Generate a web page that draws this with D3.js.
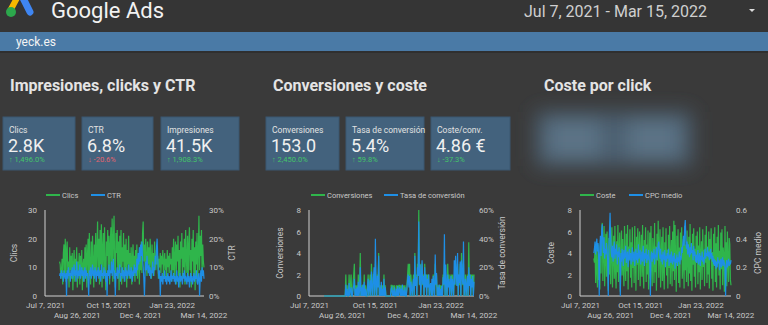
<!DOCTYPE html>
<html><head><meta charset="utf-8">
<script src="https://cdn.jsdelivr.net/npm/d3@7"></script>
<style>
body{margin:0;background:#3a3a3a;overflow:hidden}
svg{display:block;font-family:Roboto,"Noto Sans",sans-serif}
</style></head><body>
<svg id="c" width="768" height="325"></svg>
<script>
// ---------- DATA ----------
const startDate = "2021-07-30";
const domainStart = "2021-07-07", domainEnd = "2022-03-15";
const tickDates = ["2021-07-07","2021-08-26","2021-10-15","2021-12-04","2022-01-23","2022-03-14"];
const tickLabels = ["Jul 7, 2021","Aug 26, 2021","Oct 15, 2021","Dec 4, 2021","Jan 23, 2022","Mar 14, 2022"];

const clics = [
12,11,6,9,13,4,15,18,8,20, 5,16,19,7,12,3,17,9,14,6, 15,2,11,16,5,13,8,17,3,12,
9,15,4,14,7,16,2,11,13,5, 17,8,18,3,14,20,6,22,10,4, 19,7,21,12,3,18,9,22,5,16,
26,8,20,4,23,11,25,3,17,22, 6,24,10,2,19,14,23,7,21,4, 18,24,9,27,5,20,28,11,3,22,
15,23,6,19,2,21,10,23,4,17, 12,22,5,18,8,20,3,16,11,21, 6,15,9,17,4,13,18,7,14,5,
16,10,18,6,12,15,4,17,9,19, 8,22,26,12,18,9,20,14,7,19, 11,17,8,20,13,6,18,10,15,7,
19,12,9,16,11,14,6,13,10,15, 8,14,11,16,7,12,15,9,13,6, 16,10,14,8,15,11,13,5,17,9,
20,6,14,19,4,18,12,21,7,16, 3,19,13,22,6,17,10,20,4,23, 14,8,21,5,18,24,9,16,3,20,
12,23,6,17,2,19,11,22,5,15, 28,9,21,14,23,7,18,12,10];
const ctr = [
7,8,6,9,7,8,5,9,7,6, 8,0,9,6,10,7,8,5,9,7, 10,6,8,11,7,9,5,12,8,6,
9,7,11,6,8,10,7,9,5,8, 10,6,9,7,8,5,0,9,7,10, 6,8,11,7,9,6,10,8,5,9,
7,10,6,8,9,5,11,7,8,6, 10,7,9,5,8,0,9,7,11,6, 9,8,12,7,10,13,6,9,0,8,
7,10,6,9,8,11,5,8,7,10, 6,9,8,5,10,7,9,6,8,11, 7,9,6,10,8,5,9,7,11,8,
10,7,13,9,15,11,17,12,18,14, 19,13,10,6,0,8,12,9,14,10, 8,11,7,10,6,9,8,12,7,10,
9,14,11,17,20,13,8,6,9,0, 7,5,8,4,7,6,9,5,7,4, 6,8,5,7,4,6,9,5,7,6,
8,5,7,4,6,9,5,7,3,6, 8,5,7,6,4,8,6,9,5,7, 6,4,8,5,7,3,6,8,5,7,
4,6,8,5,7,6,9,5,4,7, 8,0,6,9,5,10,7,9,6];
const conversiones = [
0,0,0,0,0,0,0,0,0,0, 0,0,0,0,0,0,0,0,0,0, 0,0,0,0,0,0,0,0,0,0,
0,0,0,2,0,1,0,0,2,0, 1,2,0,0,1,2,3,0,1,0, 1,0,2,0,1,4,0,1,0,1,
0,2,0,1,0,0,1,2,0,1, 2,0,3,1,0,2,2,0,3,1, 0,2,1,4,0,1,0,1,0,1,
0,2,0,1,0,0,0,0,0,0, 0,0,1,1,0,1,0,1,0,0, 1,0,1,0,1,1,0,1,0,1,
0,1,0,1,0,0,1,2,3,1, 3,0,2,1,0,1,2,0,4,1, 2,0,3,2,8,1,3,0,2,3,
1,2,0,3,1,2,0,2,1,2, 0,1,1,0,1,0,2,1,0,3, 1,2,0,1,0,1,0,1,0,1,
0,2,1,3,0,2,1,0,3,1, 2,0,1,2,0,2,1,0,2,1, 3,2,1,3,0,2,1,3,0,4,
2,1,3,0,1,2,0,1,2,0, 5,1,2,0,2,1,2,0,2];
const tasaConversion = [
0,0,0,0,0,0,0,0,0,0, 0,0,0,0,0,0,0,0,0,0, 0,0,0,0,0,0,0,0,0,0,
0,0,0,8,0,5,0,0,9,0, 4,6,0,0,5,7,12,0,5,0, 6,0,10,0,4,20,0,6,0,8,
0,10,0,5,0,0,6,12,0,5, 11,0,17,7,0,12,20,0,40,8, 0,14,6,28,0,6,0,10,0,5,
0,12,0,6,0,0,0,0,0,0, 0,0,5,6,0,4,0,6,0,0, 5,0,7,0,4,6,0,5,0,8,
0,4,0,6,0,0,5,12,15,6, 14,0,10,5,0,8,12,0,28,7, 13,0,20,14,52,8,22,0,12,25,
8,14,0,20,6,15,0,12,6,15, 0,7,9,0,12,0,14,6,0,29, 8,16,0,6,0,8,0,5,0,7,
0,13,8,43,0,22,8,0,15,6, 12,0,9,14,0,12,7,0,25,8, 28,16,7,30,0,15,9,24,0,25,
14,8,38,0,6,12,0,8,14,0, 20,7,15,0,12,6,14,0,10];
const coste = [
3.5,3.1,4.5,1.2,5.0,2.4,0.8,4.8,1.5,3.9, 0.6,5.2,2.1,6.2,6.8,1.4,4.4,6.5,0.9,3.6,
5.8,1.8,6.0,2.7,0.5,5.4,2.0,6.3,1.1,4.7, 6.4,0.8,3.8,5.6,1.6,6.5,2.5,0.7,5.1,2.2,
6.6,1.3,4.2,5.9,0.4,3.4,6.1,1.9,5.3,2.8, 0.9,6.5,3.0,1.4,5.8,2.3,6.6,0.6,4.6,3.3,
6.2,1.7,5.0,0.8,6.4,2.6,4.1,1.2,6.5,3.6, 0.5,5.5,2.9,6.3,1.5,4.4,6.0,0.9,3.7,5.7,
1.8,6.6,2.4,0.7,5.2,3.1,6.4,1.3,4.8,2.0, 6.1,0.6,3.5,5.9,1.6,6.5,2.7,0.9,5.4,3.9,
1.2,6.8,2.2,4.6,0.5,5.8,3.3,7.0,1.7,4.1, 6.2,0.8,3.7,5.5,1.4,6.4,2.5,0.6,5.0,3.0,
6.3,1.9,4.3,0.7,5.7,2.6,6.5,1.1,3.8,5.2, 0.9,6.0,2.3,7.0,1.5,6.6,3.2,0.4,5.6,2.8,
6.2,1.2,4.5,0.8,5.9,3.5,6.4,1.6,3.0,5.3, 0.7,6.5,2.4,4.8,1.3,6.1,3.6,0.9,5.5,2.1,
6.7,1.4,4.0,0.5,5.8,2.9,6.3,1.8,4.4,0.8, 5.6,3.3,6.0,1.1,4.7,2.2,6.4,0.6,3.9,5.1,
1.5,6.2,2.7,4.3,0.9,5.7,3.1,6.5,1.2,4.6, 2.0,6.0,0.7,5.3,3.4,6.3,1.6,4.1,0.5,5.8,
2.8,6.4,1.3,4.9,0.8,5.5,3.0,6.6,1.9,4.2, 0.6,5.9,2.5,6.2,1.0,4.5,3.7,0.4,6.5,2.2,
5.0,0.9,6.0,3.2,1.3,5.4,4.8,1.5,1.0];
const cpcMedio = [
0.30,0.33,0.38,0.29,0.35,0.40,0.31,0.37,0.27,0.0, 0.34,0.42,0.28,0.45,0.50,0.36,0.30,0.41,0.26,0.33,
0.29,0.37,0.31,0.25,0.0,0.34,0.45,0.58,0.40,0.30, 0.27,0.35,0.24,0.32,0.38,0.26,0.33,0.29,0.36,0.22,
0.31,0.27,0.34,0.25,0.0,0.30,0.24,0.33,0.28,0.21, 0.32,0.26,0.29,0.35,0.23,0.28,0.31,0.20,0.27,0.33,
0.25,0.30,0.22,0.29,0.34,0.24,0.27,0.31,0.21,0.28, 0.33,0.25,0.30,0.23,0.36,0.26,0.29,0.32,0.22,0.27,
0.31,0.24,0.35,0.28,0.21,0.30,0.26,0.33,0.23,0.29, 0.25,0.32,0.27,0.22,0.0,0.28,0.31,0.24,0.30,0.26,
0.33,0.22,0.29,0.27,0.34,0.25,0.31,0.36,0.38,0.30, 0.26,0.33,0.24,0.29,0.22,0.31,0.27,0.25,0.32,0.20,
0.28,0.24,0.30,0.26,0.33,0.21,0.27,0.29,0.23,0.31, 0.25,0.22,0.28,0.24,0.30,0.19,0.26,0.23,0.29,0.21,
0.27,0.24,0.31,0.22,0.28,0.25,0.34,0.30,0.37,0.42, 0.35,0.48,0.53,0.40,0.33,0.38,0.29,0.36,0.31,0.27,
0.34,0.29,0.37,0.30,0.32,0.25,0.35,0.28,0.31,0.24, 0.29,0.23,0.27,0.32,0.22,0.26,0.30,0.21,0.28,0.25,
0.31,0.24,0.27,0.22,0.29,0.33,0.26,0.30,0.28,0.34, 0.27,0.31,0.25,0.29,0.33,0.26,0.30,0.24,0.28,0.22,
0.26,0.21,0.25,0.19,0.24,0.20,0.27,0.23,0.25,0.18, 0.22,0.26,0.20,0.24,0.27,0.21,0.25,0.23,0.19,0.0,
0.22,0.25,0.20,0.23,0.26,0.21,0.24,0.22,0.25];

const kpiLabels = ["Clics","CTR","Impresiones","Conversiones","Tasa de conversión","Coste/conv."];
const kpiValues = ["2.8K","6.8%","41.5K","153.0","5.4%","4.86 €"];
const kpiDeltas = ["1,496.0%","-20.6%","1,908.3%","2,450.0%","59.8%","-37.3%"];
const kpiUp = [true,false,true,true,true,false];
const kpiGood = [true,false,true,true,true,true];
const sectionTitles = ["Impresiones, clicks y CTR","Conversiones y coste","Coste por click"];

// ---------- DRAW ----------
const svg = d3.select("#c");
const GREEN = "#2fb54b", BLUE = "#1e8fe6", TXT = "#c9c9c9";
const parse = d3.timeParse("%Y-%m-%d");
const dates = clics.map((_, i) => d3.timeDay.offset(parse(startDate), i));

const defs = svg.append("defs");
defs.append("filter").attr("id","blur").attr("x","-50%").attr("y","-50%").attr("width","200%").attr("height","200%")
  .append("feGaussianBlur").attr("stdDeviation", 10);

// header
svg.append("rect").attr("x",0).attr("y",0).attr("width",768).attr("height",32).attr("fill","#353535");
svg.append("line").attr("x1",10).attr("y1",11).attr("x2",17).attr("y2",-2)
  .attr("stroke","#f6b900").attr("stroke-width",6).attr("stroke-linecap","round");
svg.append("line").attr("x1",23).attr("y1",-2).attr("x2",30).attr("y2",12)
  .attr("stroke","#3f86f2").attr("stroke-width",7).attr("stroke-linecap","round");
svg.append("circle").attr("cx",11).attr("cy",12).attr("r",5).attr("fill","#2ca84c");
svg.append("text").attr("x",51).attr("y",18).attr("font-size",22).attr("fill","#f2f2f2").text("Google Ads");
svg.append("text").attr("x",524).attr("y",17).attr("font-size",16).attr("fill","#cfcfcf").text("Jul 7, 2021 - Mar 15, 2022");
svg.append("path").attr("d","M749,9 L755,9 L752,12 Z").attr("fill","#dddddd");

svg.append("rect").attr("x",0).attr("y",32).attr("width",768).attr("height",19).attr("fill","#4a7aa6");
svg.append("rect").attr("x",0).attr("y",51).attr("width",768).attr("height",2).attr("fill","#2f2f2f");
svg.append("text").attr("x",16).attr("y",46).attr("font-size",12).attr("fill","#f4f4f4").text("yeck.es");

// section titles
[10, 273, 544].forEach((x, i) => {
  svg.append("text").attr("x", x).attr("y", 91).attr("font-size", 16).attr("font-weight", 700)
    .attr("fill", "#e4e4e4").text(sectionTitles[i]);
});

// KPI cards
const cardX = [[3,75],[82,153],[161,239],[266,339],[346,424],[431,510]];
cardX.forEach(([a,b], i) => {
  const g = svg.append("g");
  g.append("rect").attr("x",a).attr("y",117).attr("width",b-a).attr("height",53).attr("fill","#43627d")
    .attr("stroke","#3a5670").attr("stroke-width",1);
  g.append("text").attr("x",a+6).attr("y",133).attr("font-size",8.5).attr("fill","#e2e2e2").text(kpiLabels[i]);
  g.append("text").attr("x",a+5).attr("y",151.5).attr("font-size",18).attr("fill","#f0f0f0").text(kpiValues[i]);
  g.append("text").attr("x",a+6).attr("y",162).attr("font-size",7.5)
    .attr("fill", kpiGood[i] ? "#43c46a" : "#e2646f")
    .text((kpiUp[i] ? "↑ " : "↓ ") + kpiDeltas[i]);
});

// blurred scorecards
const blurG = svg.append("g").attr("filter","url(#blur)");
blurG.append("rect").attr("x",536).attr("y",112).attr("width",156).attr("height",54).attr("fill","#4b5f70");
blurG.append("rect").attr("x",548).attr("y",120).attr("width",52).attr("height",38).attr("fill","#5b7386");
blurG.append("rect").attr("x",628).attr("y",120).attr("width",52).attr("height",38).attr("fill","#5b7386");

// charts
function drawChart(o) {
  const g = svg.append("g");
  const x = d3.scaleTime().domain([parse(domainStart), parse(domainEnd)]).range([o.x0, o.x1]);
  const yL = d3.scaleLinear().domain([0, o.lMax]).range([296, 210]);
  const yR = d3.scaleLinear().domain([0, o.rMax]).range([296, 210]);

  const ax = g.append("g").attr("transform", `translate(${o.x0},0)`)
    .call(d3.axisLeft(yL).tickValues(o.lTicks).tickSize(0).tickPadding(8).tickFormat(o.lFmt));
  ax.select(".domain").remove();
  ax.selectAll("text").attr("fill", TXT).attr("font-size", 8).attr("font-family","Roboto");
  const ar = g.append("g").attr("transform", `translate(${o.x1},0)`)
    .call(d3.axisRight(yR).tickValues(o.rTicks).tickSize(0).tickPadding(5).tickFormat(o.rFmt));
  ar.select(".domain").remove();
  ar.selectAll("text").attr("fill", TXT).attr("font-size", 8).attr("font-family","Roboto");

  const bx = g.append("g").attr("transform", "translate(0,296)")
    .call(d3.axisBottom(x).tickValues(tickDates.map(parse)).tickSize(0)
      .tickFormat((d, i) => tickLabels[i]));
  bx.select(".domain").remove();
  bx.selectAll("text").attr("fill", TXT).attr("font-size", 8).attr("font-family","Roboto")
    .attr("dy", 0).attr("y", (d, i) => i % 2 ? 22 : 12);

  g.append("line").attr("x1",o.x0).attr("x2",o.x0).attr("y1",210).attr("y2",296).attr("stroke","#d0d0d0");
  g.append("line").attr("x1",o.x0).attr("x2",o.x1).attr("y1",296).attr("y2",296).attr("stroke","#d0d0d0");

  const lineL = d3.line().x((d, i) => x(dates[i])).y(d => yL(d));
  const lineR = d3.line().x((d, i) => x(dates[i])).y(d => yR(d));
  g.append("path").attr("d", lineL(o.left)).attr("fill","none").attr("stroke",GREEN).attr("stroke-width",1.2);
  g.append("path").attr("d", lineR(o.right)).attr("fill","none").attr("stroke",BLUE).attr("stroke-width",1.2);

  g.append("text").attr("transform", `translate(${o.tl},253) rotate(-90)`).attr("text-anchor","middle")
    .attr("dominant-baseline","middle").attr("font-size",8.5).attr("fill",TXT).text(o.lName);
  g.append("text").attr("transform", `translate(${o.tr},253) rotate(-90)`).attr("text-anchor","middle")
    .attr("dominant-baseline","middle").attr("font-size",8.5).attr("fill",TXT).text(o.rName);

  [[o.lg[0], GREEN, o.lName], [o.lg[1], BLUE, o.rName]].forEach(([lx, c, name]) => {
    g.append("line").attr("x1",lx).attr("x2",lx+14).attr("y1",195).attr("y2",195).attr("stroke",c).attr("stroke-width",2);
    g.append("text").attr("x",lx+16).attr("y",197.7).attr("font-size",7.5).attr("fill",TXT).text(name);
  });
}

drawChart({x0:45, x1:204, left:clics, right:ctr, lMax:30, rMax:30,
  lTicks:[0,10,20,30], rTicks:[0,10,20,30], lFmt:d3.format("d"), rFmt:d=>d+"%",
  lName:"Clics", rName:"CTR", tl:15, tr:233, lg:[46,91]});
drawChart({x0:309, x1:474, left:conversiones, right:tasaConversion, lMax:8, rMax:60,
  lTicks:[0,2,4,6,8], rTicks:[0,20,40,60], lFmt:d3.format("d"), rFmt:d=>d+"%",
  lName:"Conversiones", rName:"Tasa de conversión", tl:281, tr:503, lg:[311,384]});
drawChart({x0:580, x1:731, left:coste, right:cpcMedio, lMax:8, rMax:0.6,
  lTicks:[0,2,4,6,8], rTicks:[0,0.2,0.4,0.6], lFmt:d3.format("d"), rFmt:d=>d===0?"0":d3.format(".1f")(d),
  lName:"Coste", rName:"CPC medio", tl:552, tr:759, lg:[580,629]});
</script>
</body></html>
